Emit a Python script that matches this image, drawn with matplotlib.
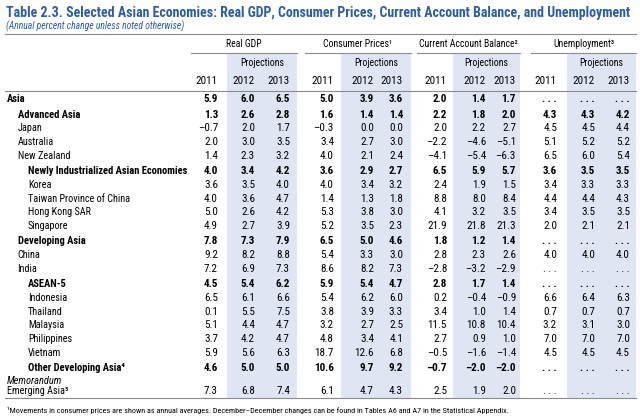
import matplotlib
matplotlib.use('Agg')
import matplotlib.pyplot as plt
from matplotlib import font_manager
from matplotlib.patches import Rectangle

# pick a narrow face (needs regular + bold upright)
faces = {}
for f in font_manager.fontManager.ttflist:
    if f.style == 'normal':
        faces.setdefault(f.name, set()).add(f.weight)
narrow = 'Liberation Sans'
for cand in ['Liberation Sans Narrow', 'Nimbus Sans Narrow', 'Roboto Condensed', 'Archivo Narrow',
             'PT Sans Narrow', 'Arimo Narrow', 'Barlow Semi Condensed', 'Asap Condensed']:
    ws = faces.get(cand, set())
    if any(w in (400, 'normal', 'regular') for w in ws) and any(w in (700, 'bold') for w in ws):
        narrow = cand
        break
plt.rcParams['font.family'] = [narrow, 'DejaVu Sans']

title = 'Table 2.3. Selected Asian Economies: Real GDP, Consumer Prices, Current Account Balance, and Unemployment'
subtitle = '(Annual percent change unless noted otherwise)'
footnote = '\u00b9Movements in consumer prices are shown as annual averages. December\u2013December changes can be found in Tables A6 and A7 in the Statistical Appendix.'

groups = ['Real GDP', 'Consumer Prices\u00b9', 'Current Account Balance\u00b2', 'Unemployment\u00b3']
years = ['2011', '2012', '2013']

labels = ['Asia', 'Advanced Asia', 'Japan', 'Australia', 'New Zealand',
          'Newly Industrialized Asian Economies', 'Korea', 'Taiwan Province of China',
          'Hong Kong SAR', 'Singapore', 'Developing Asia', 'China', 'India',
          'ASEAN-5', 'Indonesia', 'Thailand', 'Malaysia', 'Philippines', 'Vietnam',
          'Other Developing Asia\u2074', 'Emerging Asia\u2075']
indent = [0, 1, 1, 1, 1, 2, 2, 2, 2, 2, 1, 1, 1, 2, 2, 2, 2, 2, 2, 2, 0]
bold = [True, True, False, False, False, True, False, False, False, False,
        True, False, False, True, False, False, False, False, False, True, False]

real_gdp = [[5.9, 6.0, 6.5], [1.3, 2.6, 2.8], [-0.7, 2.0, 1.7], [2.0, 3.0, 3.5],
            [1.4, 2.3, 3.2], [4.0, 3.4, 4.2], [3.6, 3.5, 4.0], [4.0, 3.6, 4.7],
            [5.0, 2.6, 4.2], [4.9, 2.7, 3.9], [7.8, 7.3, 7.9], [9.2, 8.2, 8.8],
            [7.2, 6.9, 7.3], [4.5, 5.4, 6.2], [6.5, 6.1, 6.6], [0.1, 5.5, 7.5],
            [5.1, 4.4, 4.7], [3.7, 4.2, 4.7], [5.9, 5.6, 6.3], [4.6, 5.0, 5.0],
            [7.3, 6.8, 7.4]]
cons_prices = [[5.0, 3.9, 3.6], [1.6, 1.4, 1.4], [-0.3, 0.0, 0.0], [3.4, 2.7, 3.0],
               [4.0, 2.1, 2.4], [3.6, 2.9, 2.7], [4.0, 3.4, 3.2], [1.4, 1.3, 1.8],
               [5.3, 3.8, 3.0], [5.2, 3.5, 2.3], [6.5, 5.0, 4.6], [5.4, 3.3, 3.0],
               [8.6, 8.2, 7.3], [5.9, 5.4, 4.7], [5.4, 6.2, 6.0], [3.8, 3.9, 3.3],
               [3.2, 2.7, 2.5], [4.8, 3.4, 4.1], [18.7, 12.6, 6.8], [10.6, 9.7, 9.2],
               [6.1, 4.7, 4.3]]
cur_account = [[2.0, 1.4, 1.7], [2.2, 1.8, 2.0], [2.0, 2.2, 2.7], [-2.2, -4.6, -5.1],
               [-4.1, -5.4, -6.3], [6.5, 5.9, 5.7], [2.4, 1.9, 1.5], [8.8, 8.0, 8.4],
               [4.1, 3.2, 3.5], [21.9, 21.8, 21.3], [1.8, 1.2, 1.4], [2.8, 2.3, 2.6],
               [-2.8, -3.2, -2.9], [2.8, 1.7, 1.4], [0.2, -0.4, -0.9], [3.4, 1.0, 1.4],
               [11.5, 10.8, 10.4], [2.7, 0.9, 1.0], [-0.5, -1.6, -1.4], [-0.7, -2.0, -2.0],
               [2.5, 1.9, 2.0]]
unemployment = [[None] * 3, [4.3, 4.3, 4.2], [4.5, 4.5, 4.4], [5.1, 5.2, 5.2],
                [6.5, 6.0, 5.4], [3.6, 3.5, 3.5], [3.4, 3.3, 3.3], [4.4, 4.4, 4.3],
                [3.4, 3.5, 3.5], [2.0, 2.1, 2.1], [None] * 3, [4.0, 4.0, 4.0],
                [None] * 3, [None] * 3, [6.6, 6.4, 6.3], [0.7, 0.7, 0.7],
                [3.2, 3.1, 3.0], [7.0, 7.0, 7.0], [4.5, 4.5, 4.5], [None] * 3,
                [None] * 3]
tables = [real_gdp, cons_prices, cur_account, unemployment]

BLUE = '#2a5ca8'
SHADE = '#dfe5f3'
LINE = '#8a8a8a'

fig = plt.figure(figsize=(6.4, 4.19), dpi=100)
ax = fig.add_axes([0, 0, 1, 1])
ax.set_xlim(0, 640)
ax.set_ylim(419, 0)
ax.axis('off')


def fit(t, width):
    # scale a text's font size so it spans the given pixel width
    fig.canvas.draw()
    w = t.get_window_extent(fig.canvas.get_renderer()).width
    t.set_fontsize(t.get_fontsize() * width / w)


# column layout (pixels): group span, shaded projection span, right edges of numbers
spans = [(191, 297), (305, 411), (417, 520), (531, 636)]
shades = [(227, 297), (341, 411), (453, 520), (567, 636)]
rights = [(218, 255, 290), (334, 374, 403), (447, 486, 516), (557, 595, 630)]

# row positions
pitch, gap = 13.7, 1.8
row_y = []
y = 99
for i, lab in enumerate(labels):
    if i > 0:
        y += pitch
        if indent[i] < indent[i - 1] or bold[i]:
            y += gap
        if i == len(labels) - 1:
            y += 7.5
    row_y.append(y)

bottom = 398
for (x0, x1) in shades:
    ax.add_patch(Rectangle((x0, 53), x1 - x0, bottom - 53, color=SHADE, lw=0, zorder=0))

t = ax.text(6, 13, title, fontsize=11, fontweight='bold', color=BLUE, va='center', ha='left')
fit(t, 624)
t = ax.text(6, 26, subtitle, fontsize=7, style='italic', color=BLUE, va='center', ha='left')
fit(t, 180)

ax.plot([5, 636], [34, 34], color=LINE, lw=0.8)
ax.plot([5, 636], [91, 91], color=LINE, lw=0.8)
ax.plot([5, 636], [bottom, bottom], color=LINE, lw=0.8)

for g, (x0, x1), (s0, s1), rr in zip(groups, spans, shades, rights):
    ax.text((x0 + x1) / 2, 44, g, fontsize=7, va='center', ha='center')
    ax.plot([x0, x1], [53, 53], color=LINE, lw=0.8)
    ax.text((s0 + s1) / 2, 63, 'Projections', fontsize=7, va='center', ha='center')
    for yr, xr in zip(years, rr):
        ax.text(xr, 81, yr, fontsize=8, va='center', ha='right')


def fmt(v):
    if v is None:
        return '. . .'
    s = '%.1f' % abs(v)
    return ('\u2013' + s) if v < 0 else s


for i, lab in enumerate(labels):
    yy = row_y[i]
    wt = 'bold' if bold[i] else 'normal'
    ax.text(7 + indent[i] * 10.5, yy, lab, fontsize=7.6 if bold[i] else 7.3,
            fontweight=wt, va='center', ha='left')
    for tab, rr in zip(tables, rights):
        for v, xr in zip(tab[i], rr):
            ax.text(xr, yy, fmt(v), fontsize=8, fontweight=wt, va='center', ha='right')

ax.text(7, row_y[-1] - 10, 'Memorandum', fontsize=7.5, style='italic', va='center', ha='left')

t = ax.text(7, 410, footnote, fontsize=6, va='center', ha='left')
fit(t, 501)

fig.savefig('out.png', dpi=100)
